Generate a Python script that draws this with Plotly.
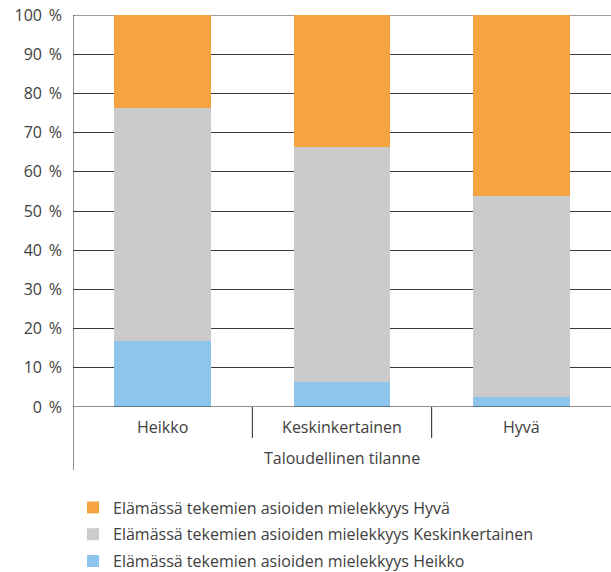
import plotly.graph_objects as go

categories = ["Heikko", "Keskinkertainen", "Hyvä"]
heikko = [16.8, 6.4, 2.6]
keskinkertainen = [59.5, 59.9, 51.2]
hyva = [23.7, 33.7, 46.2]
series_names = [
    "Elämässä tekemien asioiden mielekkyys Heikko",
    "Elämässä tekemien asioiden mielekkyys Keskinkertainen",
    "Elämässä tekemien asioiden mielekkyys Hyvä",
]
legend_ranks = [3, 2, 1]
colors = ["#8DC5EC", "#CBCBCB", "#F5A343"]
x_title = "Taloudellinen tilanne"
y_ticks = [0, 10, 20, 30, 40, 50, 60, 70, 80, 90, 100]
y_ticktext = [f"{v} \u2009%" for v in y_ticks]

FONT = "Open Sans"
TXT = "#404040"

fig = go.Figure()
for i, (vals, name, col, rk) in enumerate(zip([heikko, keskinkertainen, hyva], series_names, colors, legend_ranks)):
    fig.add_trace(go.Bar(x=categories, y=vals, name=name, legendgroup=f"g{rk}", legendrank=rk,
                         marker=dict(color=col, line=dict(width=0))))

fig.update_layout(
    barmode="stack",
    bargap=0.46,
    width=611, height=572,
    margin=dict(l=73, r=0, t=15, b=165, autoexpand=False),
    plot_bgcolor="white", paper_bgcolor="white",
    font=dict(family=FONT, size=16, color=TXT),
    legend=dict(
        traceorder="grouped",
        x=0.0, y=-0.213, xanchor="left", yanchor="top",
        font=dict(size=16, color=TXT),
        tracegroupgap=3,
    ),
    xaxis=dict(
        showgrid=False, ticks="", showline=False,
        tickfont=dict(size=16, color=TXT),
        range=[-0.5, 2.5],
        ticklabelstandoff=9,
        automargin=False,
    ),
    yaxis=dict(
        range=[0, 100], tickvals=y_ticks, ticktext=y_ticktext,
        showgrid=True, gridcolor="#3a3a3a", gridwidth=1,
        showline=False, zeroline=False, ticks="",
        tickfont=dict(size=16, color=TXT),
        ticklabelstandoff=10,
        ticklabeloverflow="allow",
        automargin=False,
    ),
)

# axis frame lines
fig.add_shape(type="line", xref="x", yref="paper", x0=-0.5, x1=-0.5, y0=-0.161, y1=1,
              line=dict(color="#222", width=1))
fig.add_shape(type="line", xref="paper", yref="y", x0=0, x1=1, y0=0, y1=0,
              line=dict(color="#222", width=1))
fig.add_shape(type="line", xref="paper", yref="y", x0=0, x1=1, y0=100, y1=100,
              line=dict(color="#3a3a3a", width=1), layer="below")
for d in [0.5, 1.5]:
    fig.add_shape(type="line", xref="x", yref="paper", x0=d, x1=d, y0=-0.079, y1=0,
                  line=dict(color="#222", width=1))

fig.add_annotation(text=x_title, xref="paper", yref="paper", x=0.5, y=-0.130,
                   showarrow=False, yanchor="middle", font=dict(size=16, color=TXT))

fig.write_html("out.html", config={"displayModeBar": False},
               post_script="document.body.style.margin='0';")
